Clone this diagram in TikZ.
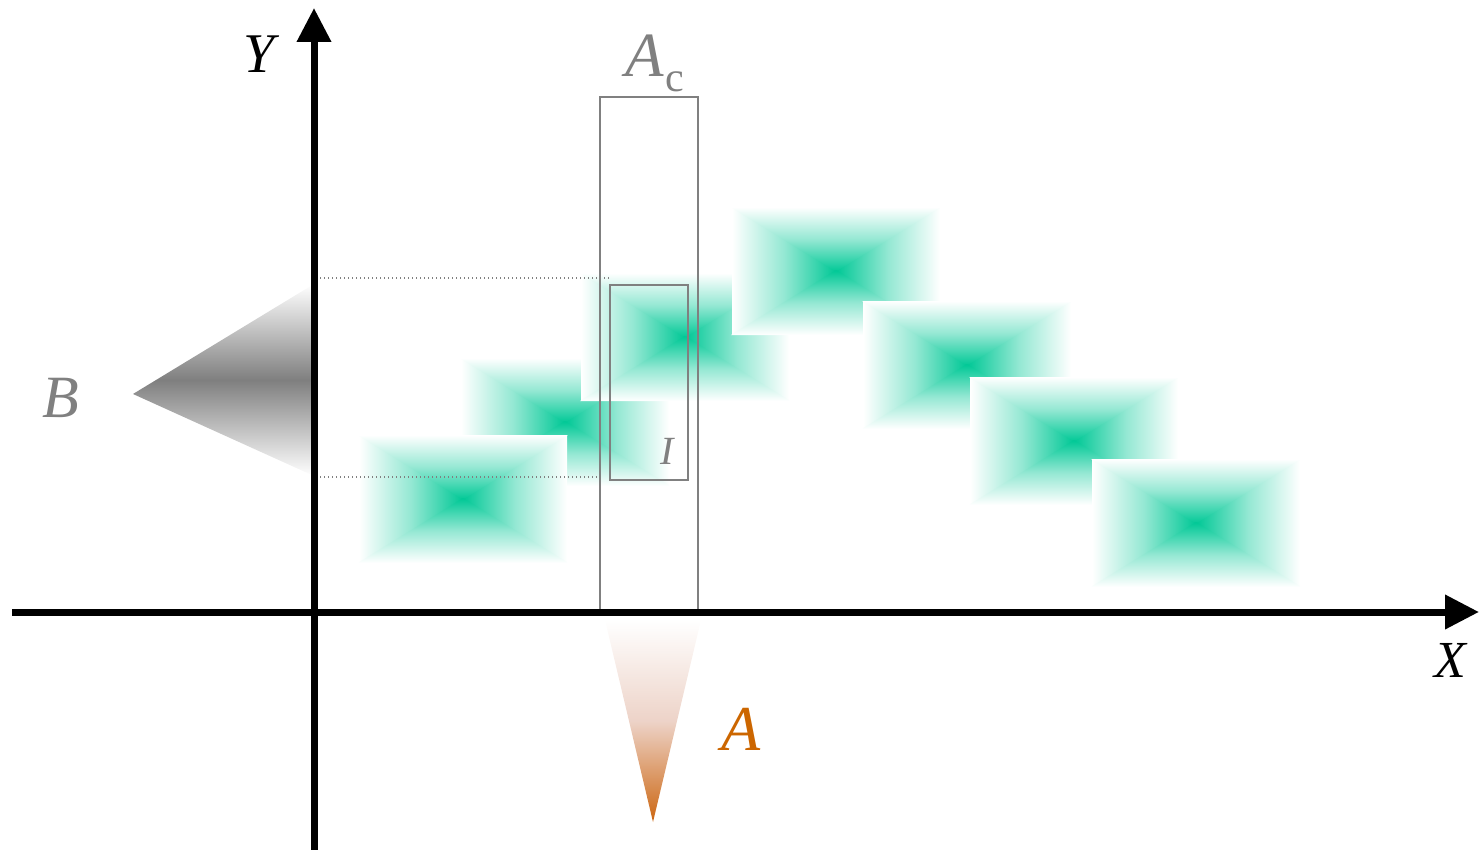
\documentclass[tikz,border=0pt]{standalone}
\usepackage{fontspec}
\setmainfont{Liberation Serif}
\usetikzlibrary{arrows.meta}
\definecolor{blob-green}{HTML}{00C896}
\definecolor{frame-grey}{HTML}{808080}
\definecolor{band-grey}{HTML}{7F7F7F}
\definecolor{a-orange}{HTML}{CC6611}
\definecolor{a-mid}{HTML}{EDD3C8}
\definecolor{label-orange}{HTML}{CC6600}
\tikzset{
  axis-line/.style={draw=black, line width=7pt, -{Triangle[width=33pt, length=34pt]}},
  frame-box/.style={draw=frame-grey, line width=2pt},
  proj-line/.style={draw=frame-grey, line width=1.4pt, dash pattern=on 1.4pt off 2.6pt},
  axis-label/.style={inner sep=0pt, font=\itshape},
  grey-label/.style={inner sep=0pt, text=frame-grey}
}
% one green spot: white patch, then four shaded triangles meeting in the centre
\newcommand{\greenblob}[2]{%
  \begin{scope}[shift={(#1,#2)}]
    \fill[white] (-104,-64) rectangle (104,64);
    \shade[left color=white, right color=blob-green, middle color=blob-green!42]
      (-104,-64) -- (-104,64) -- (0,0) -- cycle;
    \shade[right color=white, left color=blob-green, middle color=blob-green!42]
      (104,-64) -- (104,64) -- (0,0) -- cycle;
    \shade[top color=white, bottom color=blob-green, middle color=blob-green!42]
      (-105,-64) -- (105,-64) -- (0,0.8) -- cycle;
    \shade[bottom color=white, top color=blob-green, middle color=blob-green!42]
      (-105,64) -- (105,64) -- (0,-0.8) -- cycle;
  \end{scope}}

\begin{document}
\begin{tikzpicture}[x=1pt, y=-1pt]
  \useasboundingbox (0,0) rectangle (1479,850);

  % ---- Green spots -----------------------------------------------------------
  \greenblob{565}{422}
  \greenblob{463}{499}
  \greenblob{685}{337}
  \greenblob{836}{271}
  \greenblob{967}{365}
  \greenblob{1074}{441}
  \greenblob{1196}{523}

  % ---- Projections on the axes ---------------------------------------------
  \shade[top color=white, bottom color=white, middle color=band-grey]
        (133,394) -- (314,284) -- (314,476) -- cycle;
  \shade[top color=white, bottom color=a-orange, middle color=a-mid]
        (605,620) -- (701,620) -- (653,822) -- cycle;

  % ---- Dotted guides -------------------------------------------------------
  \coordinate (guide-top-l) at (320,278);
  \coordinate (guide-top-r) at (610,278);
  \coordinate (guide-bot-l) at (320,477);
  \coordinate (guide-bot-r) at (600,477);
  \draw[proj-line] (guide-top-l) -- (guide-top-r);
  \draw[proj-line] (guide-bot-l) -- (guide-bot-r);

  % ---- Column and interval boxes -------------------------------------------
  \draw[frame-box] (600,97) rectangle (698,610);
  \draw[frame-box] (610,285) rectangle (688,480);

  % ---- Axes ------------------------------------------------------------------
  \coordinate (x-start) at (12,612);
  \coordinate (x-end)   at (1479,612);
  \coordinate (y-start) at (314,850);
  \coordinate (y-end)   at (314,8);
  \draw[axis-line] (x-start) -- (x-end);
  \draw[axis-line] (y-start) -- (y-end);

  % ---- Labels ----------------------------------------------------------------
  \node[axis-label, font=\fontsize{52}{52}\selectfont\itshape] (x-label) at (1450,660) {X};
  \node[axis-label, font=\fontsize{56}{56}\selectfont\itshape] (y-label) at (259,54) {Y};
  \node[grey-label, font=\fontsize{60}{60}\selectfont\itshape] (b-label) at (61,398) {B};
  \node[axis-label, text=label-orange, font=\fontsize{64}{64}\selectfont\itshape] (a-label) at (741,729) {A};
  \node[grey-label, font=\fontsize{63}{63}\selectfont\itshape] (ac-label) at (645,56) {A};
  \node[grey-label, font=\fontsize{42}{42}\selectfont] (ac-sub) at (675,82) {c};
  \node[grey-label, font=\fontsize{40}{40}\selectfont\itshape] (i-label) at (667,451) {I};

\end{tikzpicture}
\end{document}
